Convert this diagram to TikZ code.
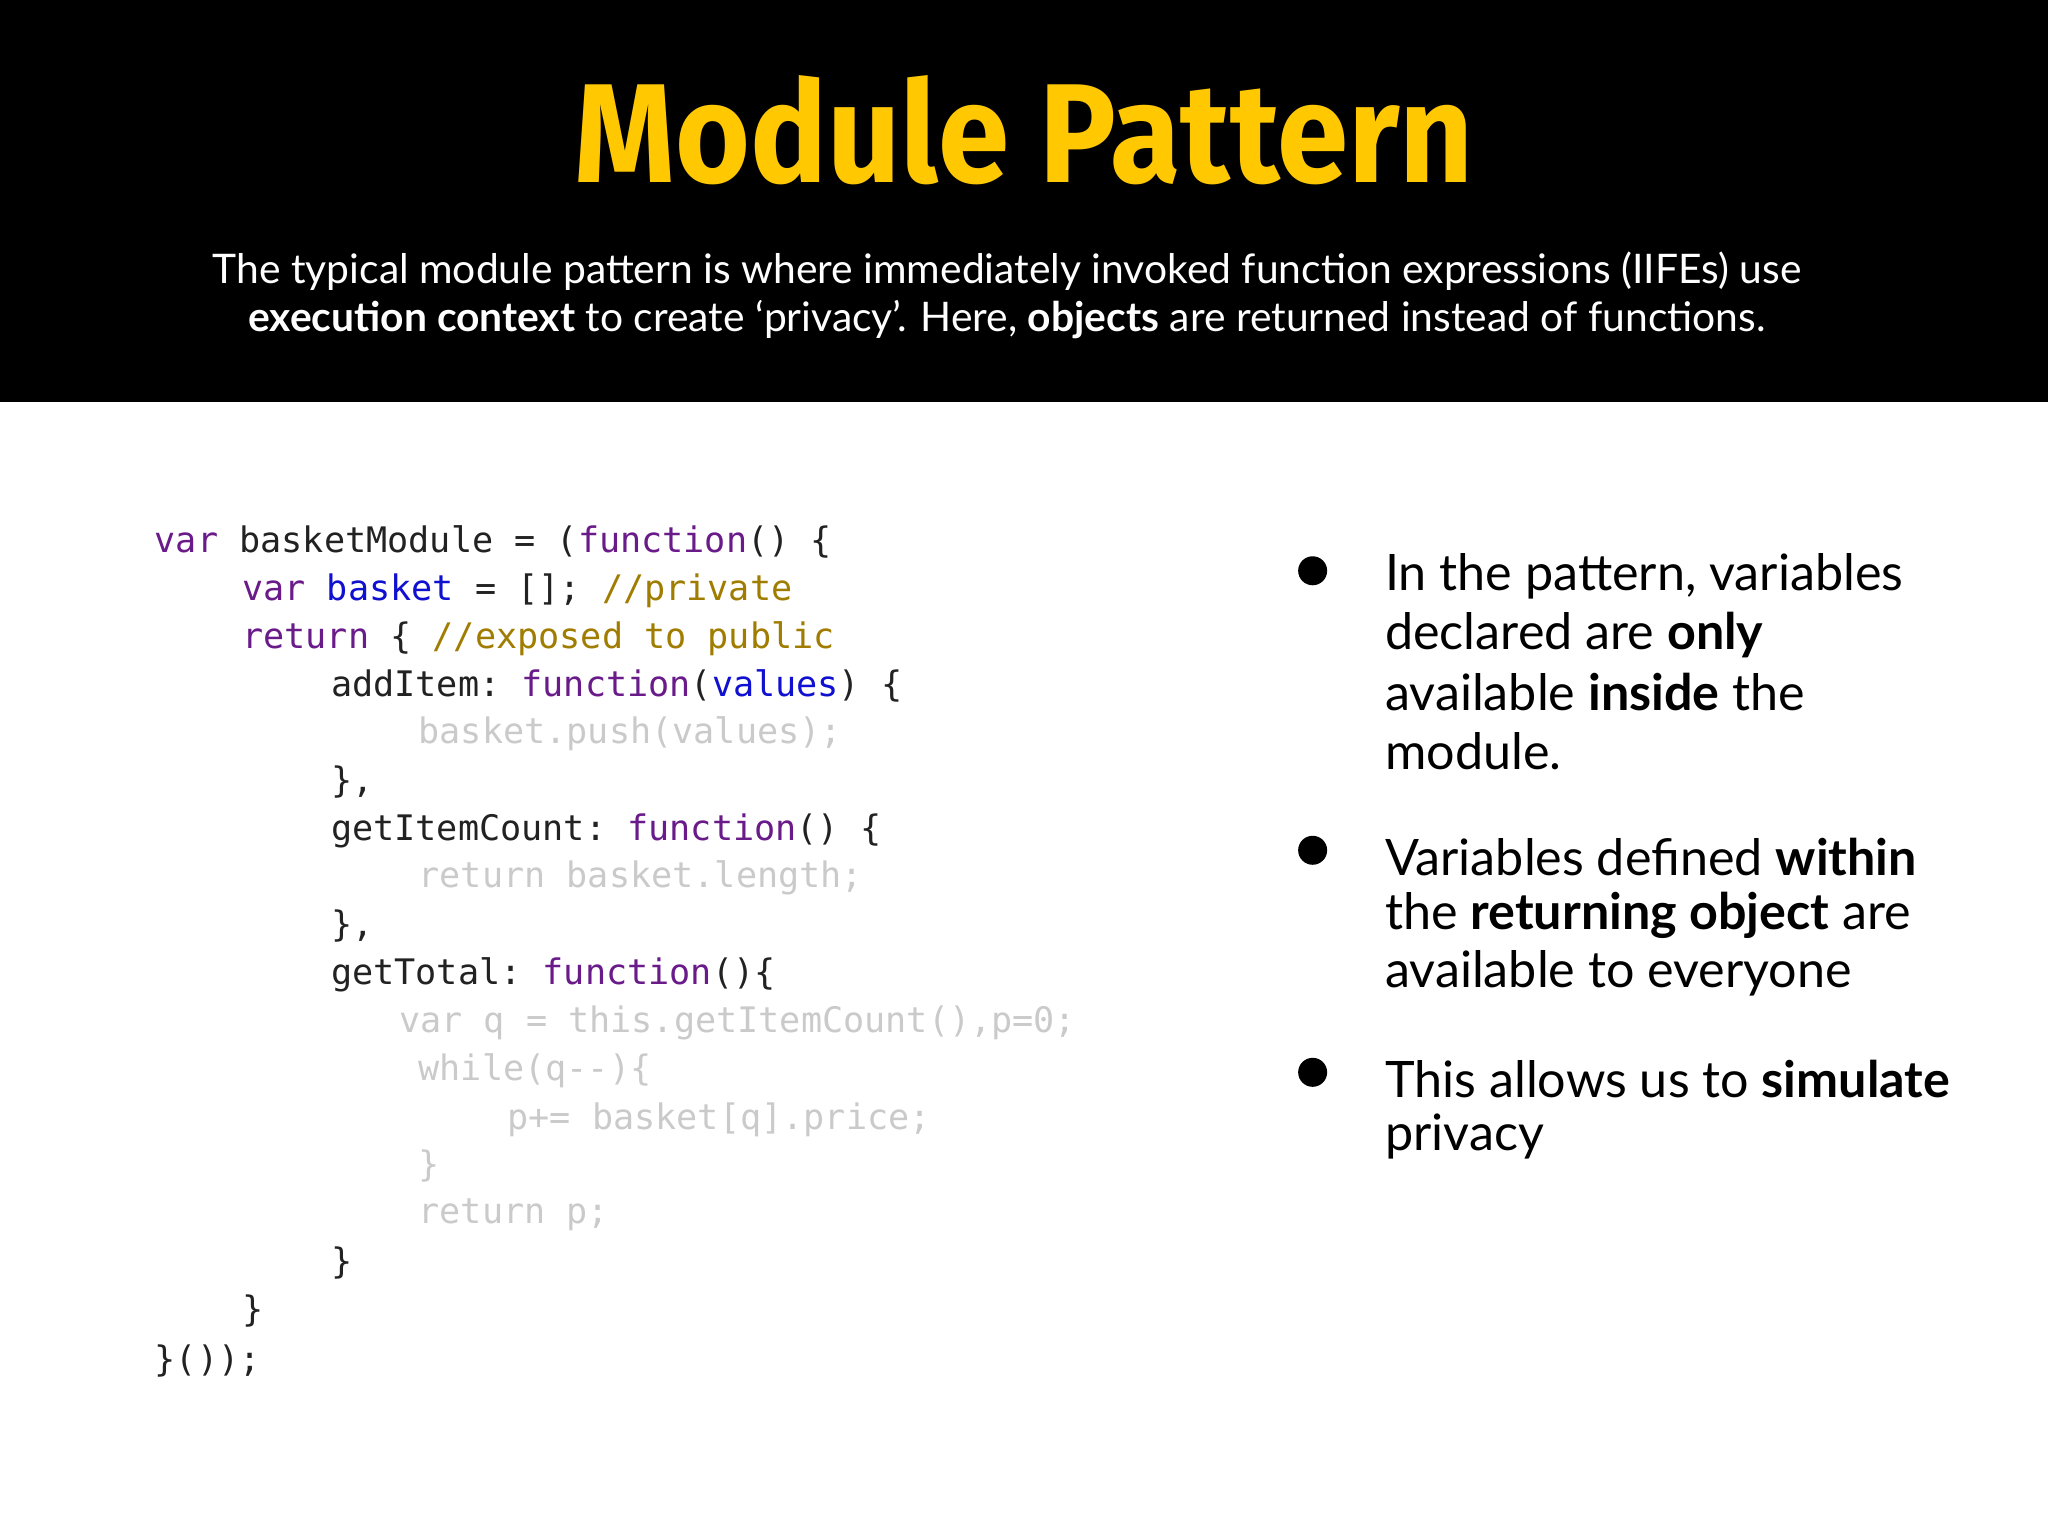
\documentclass[tikz,border=0pt]{standalone}
\usepackage{fontspec}
\setmainfont{Lato}
\setmonofont{DejaVu Sans Mono}
\newfontfamily\titlefont{Fira Sans}
\definecolor{kw}{HTML}{6A1B8A}
\definecolor{bl}{HTML}{1010D0}
\definecolor{cm}{HTML}{A07D00}
\definecolor{fd}{HTML}{CACACA}
\definecolor{tx}{HTML}{222222}
\definecolor{ttl}{HTML}{FFC800}
\begin{document}
\begin{tikzpicture}[x=0.01306cm,y=-0.01306cm,
  code/.style={anchor=west,inner sep=0,font=\ttfamily\fontsize{10}{12}\selectfont,text=tx},
  gray/.style={code,text=fd},
  sub/.style={inner sep=0,text=white,font=\fontsize{11.6}{14}\selectfont},
  bul/.style={anchor=west,inner sep=0,text=black,font=\fontsize{14.3}{17}\selectfont},
  dot/.style={circle,fill=black,minimum size=0.29cm,inner sep=0}]
\useasboundingbox (0,0) rectangle (1568,1176);
\fill[black] (0,0) rectangle (1568,308);
\node[inner sep=0,text=ttl] (title) at (784,100) {\resizebox{8.99cm}{1.07cm}{\titlefont\bfseries Module Pattern}};
\node[sub] (s1) at (771,208) {The typical module pattern is where immediately invoked function expressions (IIFEs) use};
\node[sub] (s2) at (771,245) {\textbf{execution context} to create ‘privacy’. Here, \textbf{objects} are returned instead of functions.};
% code
\node[code] (c1) at (118,415) {\textcolor{kw}{var} basketModule = (\textcolor{kw}{function}() \{};
\node[code] (c2) at (185,452) {\textcolor{kw}{var} \textcolor{bl}{basket} = []; \textcolor{cm}{//private}};
\node[code] (c3) at (185,489) {\textcolor{kw}{return} \{ \textcolor{cm}{//exposed to public}};
\node[code] (c4) at (253,525) {addItem: \textcolor{kw}{function}(\textcolor{bl}{values}) \{};
\node[gray] (c5) at (320,562) {basket.push(values);};
\node[code] (c6) at (253,599) {\},};
\node[code] (c7) at (253,636) {getItemCount: \textcolor{kw}{function}() \{};
\node[gray] (c8) at (320,672) {return basket.length;};
\node[code] (c9) at (253,709) {\},};
\node[code] (c10) at (253,746) {getTotal: \textcolor{kw}{function}()\{};
\node[gray] (c11) at (305,783) {var q = this.getItemCount(),p=0;};
\node[gray] (c12) at (320,820) {while(q-{}-)\{};
\node[gray] (c13) at (388,857) {p+= basket[q].price;};
\node[gray] (c14) at (320,893) {\}};
\node[gray] (c15) at (320,930) {return p;};
\node[code] (c16) at (253,967) {\}};
\node[code] (c17) at (185,1004) {\}};
\node[code] (c18) at (118,1042) {\}());};
% bullets
\node[dot] (d1) at (1005,437) {};
\node[dot] (d2) at (1005,651) {};
\node[dot] (d3) at (1005,821) {};
\node[bul] (b1) at (1060,441) {In the pattern, variables};
\node[bul] (b2) at (1060,486) {declared are \textbf{only}};
\node[bul] (b3) at (1060,530) {available \textbf{inside} the};
\node[bul] (b4) at (1060,575) {module.};
\node[bul] (b5) at (1060,656) {Variables defined \textbf{within}};
\node[bul] (b6) at (1060,701) {the \textbf{returning object} are};
\node[bul] (b7) at (1060,745) {available to everyone};
\node[bul] (b8) at (1060,826) {This allows us to \textbf{simulate}};
\node[bul] (b9) at (1060,870) {privacy};
\end{tikzpicture}
\end{document}
